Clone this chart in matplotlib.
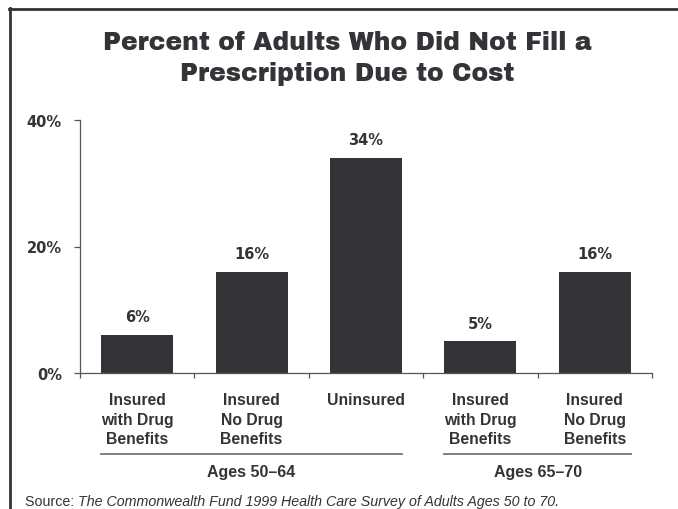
import matplotlib
matplotlib.use("Agg")
import matplotlib.pyplot as plt
from matplotlib.lines import Line2D
from matplotlib.transforms import blended_transform_factory

# Data
categories = [
    "Insured\nwith Drug\nBenefits",
    "Insured\nNo Drug\nBenefits",
    "Uninsured",
    "Insured\nwith Drug\nBenefits",
    "Insured\nNo Drug\nBenefits",
]
values = [6, 16, 34, 5, 16]
groups = ["Ages 50\u201364", "Ages 65\u201370"]
group_spans = [(0, 3), (3, 5)]
y_ticks = [0, 20, 40]
y_tick_labels = ["0%", "20%", "40%"]
title_lines = ["Percent of Adults Who Did Not Fill a", "Prescription Due to Cost"]
source_lead = "Source: "
source_title = "The Commonwealth Fund 1999 Health Care Survey of Adults Ages 50 to 70."

W, H = 678, 510
DARK = "#333338"
AXIS = "#555555"
LABEL_FONT = ["Liberation Sans", "DejaVu Sans"]
TITLE_FONT = ["Archivo Black", "DejaVu Sans"]
NUM_FONT = ["DejaVu Sans"]

fig = plt.figure(figsize=(W / 100, H / 100), dpi=100)
fig.patch.set_facecolor("white")

def fx(px):
    return px / W

def fy(py):
    return 1 - py / H

# Frame lines along the top and left edges
fig.add_artist(Line2D([fx(8.5), fx(W)], [fy(9.5), fy(9.5)], color=DARK, lw=2.0,
                      transform=fig.transFigure))
fig.add_artist(Line2D([fx(9.5), fx(9.5)], [fy(8.5), fy(H)], color=DARK, lw=2.0,
                      transform=fig.transFigure))

# Title, one line at a time on fixed baselines
for line, base in zip(title_lines, [50, 80.5]):
    fig.text(fx(347), fy(base), line, ha="center", va="baseline", fontsize=18,
             family=TITLE_FONT, color=DARK)

# Axes
ax = fig.add_axes([fx(80), fy(374), fx(652) - fx(80), fy(121) - fy(374)])
x = [i + 0.5 for i in range(len(values))]
ax.bar(x, values, width=0.63, color=DARK, zorder=2)
ax.set_xlim(0, len(values))
ax.set_ylim(0, 40)

for s in ["top", "right"]:
    ax.spines[s].set_visible(False)
for s in ["left", "bottom"]:
    ax.spines[s].set_color(AXIS)
    ax.spines[s].set_linewidth(0.9)

ax.set_yticks(y_ticks)
ax.set_yticklabels(y_tick_labels, fontsize=10.5, fontweight="bold", color=DARK,
                   family=NUM_FONT)
ax.tick_params(axis="y", length=4.5, width=0.9, color=AXIS, pad=8.5)
ax.set_xticks(range(len(values) + 1))
ax.set_xticklabels([])
ax.tick_params(axis="x", length=3.5, width=0.9, color=AXIS)

# Value labels
for xi, v in zip(x, values):
    ax.annotate(f"{v}%", (xi, v), xytext=(0, 13), textcoords="offset points",
                ha="center", va="center", fontsize=10.5, fontweight="bold",
                color=DARK, family=NUM_FONT)

# Category labels below the axis, line by line
tr = blended_transform_factory(ax.transData, fig.transFigure)
baselines = [405.5, 425, 444.5]
for xi, lab in zip(x, categories):
    for part, base in zip(lab.split("\n"), baselines):
        fig.text(xi, fy(base), part, transform=tr, ha="center", va="baseline",
                 fontsize=11.3, fontweight="bold", family=LABEL_FONT, color=DARK)

# Group brackets and labels
for (a, b), g in zip(group_spans, groups):
    pad = 0.185
    fig.add_artist(Line2D([a + pad, b - pad], [fy(455), fy(455)], transform=tr,
                          color="#808080", lw=1.4))
    fig.text((a + b) / 2, fy(477.5), g, transform=tr, ha="center",
             va="baseline", fontsize=11.5, fontweight="bold",
             family=LABEL_FONT, color=DARK)

# Source line
src = fig.text(fx(25), fy(506), source_lead, ha="left", va="baseline",
               fontsize=10.3, family=LABEL_FONT, color=DARK)
ax.annotate(source_title, xy=(1, 0), xycoords=src, ha="left", va="bottom",
            fontsize=10.3, style="italic", family=LABEL_FONT, color=DARK,
            annotation_clip=False)

fig.savefig("out.png", dpi=100)
